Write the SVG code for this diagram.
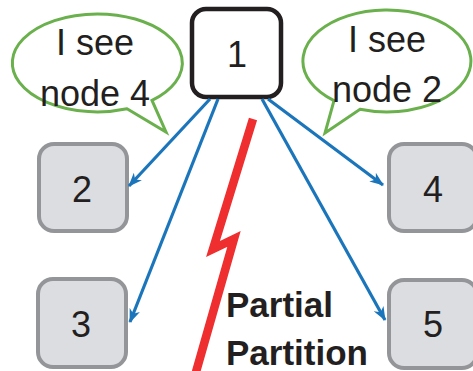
<svg xmlns="http://www.w3.org/2000/svg" width="473" height="371" viewBox="0 0 473 371">
<style>
.t{font-family:"Liberation Sans",Arial,sans-serif;font-size:36px;fill:#231f20;text-anchor:middle}
.b{font-family:"Liberation Sans",Arial,sans-serif;font-size:35px;font-weight:bold;fill:#231f20}
.g{fill:#dcdde0;stroke:#939598;stroke-width:4}
.bub{fill:#fff;stroke:#6ab04c;stroke-width:3;stroke-linejoin:miter}
.c{stroke:#1b75bb;stroke-width:3.2;fill:none;marker-end:url(#ah)}
</style>
<defs>
<marker id="ah" viewBox="0 0 14 11" refX="13" refY="5.5" markerWidth="14" markerHeight="11" markerUnits="userSpaceOnUse" orient="auto">
<path d="M0,0 L14,5.5 L0,11 L4,5.5 Z" fill="#1b75bb"/>
</marker>
</defs>
<rect width="473" height="371" fill="#fff"/>
<g id="bubble-left">
<path class="bub" d="M127,108.8 L166,132 L152,100.4 A85,49 0 1 0 127,108.8 Z"/>
<text class="t" x="95" y="55">I see</text>
<text class="t" x="95" y="106">node 4</text>
</g>
<g id="bubble-right">
<path class="bub" d="M334,100.6 L325,133 L360,109.3 A84,51 0 1 0 334,100.6 Z"/>
<text class="t" x="387" y="52">I see</text>
<text class="t" x="387" y="102">node 2</text>
</g>
<g id="node1">
<rect x="192" y="9" width="89" height="88" rx="14" fill="#fff" stroke="#231f20" stroke-width="4.5"/>
<text class="t" x="237" y="67">1</text>
</g>
<g id="node2">
<rect class="g" x="39" y="144" width="88" height="87" rx="15"/>
<text class="t" x="82" y="202">2</text>
</g>
<g id="node3">
<rect class="g" x="38" y="279" width="88" height="88" rx="15"/>
<text class="t" x="81" y="337">3</text>
</g>
<g id="node4">
<rect class="g" x="389" y="144" width="88" height="87" rx="15"/>
<text class="t" x="433" y="202">4</text>
</g>
<g id="node5">
<rect class="g" x="389" y="280" width="88" height="88" rx="15"/>
<text class="t" x="433" y="337">5</text>
</g>
<g id="connectors">
<line class="c" x1="210" y1="99" x2="129" y2="186"/>
<line class="c" x1="218" y1="99" x2="130" y2="322"/>
<line class="c" x1="268" y1="99" x2="383" y2="185"/>
<line class="c" x1="262" y1="99" x2="385" y2="320"/>
</g>
<g id="partition">
<polyline points="253,119 213,249 234,239 196,372" fill="none" stroke="#ee2e2f" stroke-width="8.5" stroke-linejoin="miter" stroke-miterlimit="10"/>
<text class="b" x="226" y="317">Partial</text>
<text class="b" x="226" y="365">Partition</text>
</g>
</svg>
